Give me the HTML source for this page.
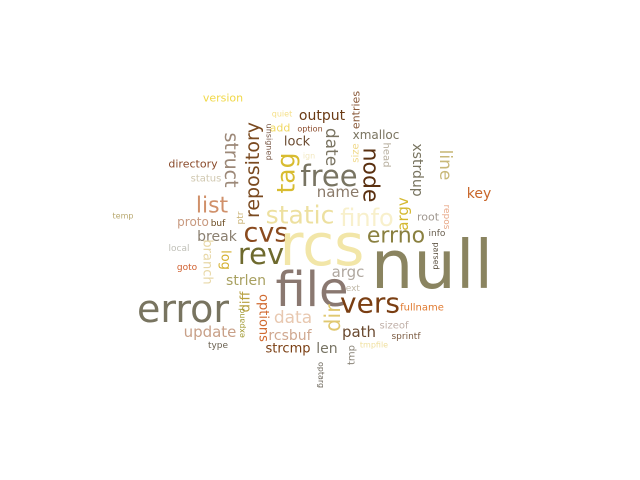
<!DOCTYPE html>
<html><head><meta charset="utf-8"><style>
html,body{margin:0;padding:0;background:#fff;}
svg{display:block;}
text{font-family:"DejaVu Sans","Liberation Sans",sans-serif;}
</style></head><body>
<svg id="cloud" width="640" height="480" viewBox="0 0 640 480"></svg>
<script>
const words = ["version","quiet","add","option","output","lock","xmalloc","directory","status","free","name","key","temp","list","proto","buf","static","finfo","root","cvs","break","errno","info","local","rev","rcs","null","goto","argc","next","strlen","file","error","vers","fullname","data","sizeof","path","update","rcsbuf","sprintf","tmpfile","type","strcmp","len","ign",
"struct","repository","unsigned","tag","size","date","entries","head","node","xstrdup","line","argv","repos","parsed","ptr","branch","log","diff","expand","options","dir","tmp","optarg"];
const sizes = [11,8,11,8,14,13,12,11,10,29,15,14,8,22,12,9,25,24,11,27,14,22,9,9,29,58,67,9,15,9,14,48,38,28,10,17,10,15,15,14,9,8,9,13,14,8,
19,19,8,25,10,17,11,10,22,14,17,15,9,8,9,13,13,13,8,13,21,10,8];
const colors = ["#f0d848","#f5e08a","#f0d860","#8a4a2a","#6a3a14","#6a4a30","#7a7460","#8a4a2a","#d0c8b0","#787462","#8a7a6a","#c8662a","#b8a870","#d0906a","#c89a80","#6a4a20","#ede0a0","#f8f0cc","#a09890","#8a4a1e","#8a7f70","#8a8040","#6a6050","#c0c0b8","#6e6a2e","#f2e6a8","#8a8460","#d06030","#b0a8a0","#c0b8a8","#a8a060","#8a7870","#787460","#7a3e12","#e07a30","#e8c8b0","#c0b0a8","#6a4a30","#c8a088","#d0a890","#7a5a40","#f0e0a0","#6a6050","#7a3e12","#787464","#f2e8c0",
"#9c8878","#7a4a20","#7a5a48","#d8bc30","#f0d888","#7a7462","#8a5a3a","#b8b0a0","#5a3010","#787460","#c8b878","#d4b830","#e8a888","#5a5040","#c8b070","#e8d8a8","#d4b030","#b8a040","#a09830","#d06a30","#e0c870","#8a8478","#6a6458"];
const cx = [223,282,280,310,322,297,376,193,206,329,338,479,123,212,193,218,300,367,428,266,217,396,437,179,261,322,432,187,348,350,246,312,183,370,422,293,394,359,210,290,406,374,218,288,327,309,
231,253,269,286,356,331,356,386,370,417,445,403,446,436,241,207,225,246,242,263,333,352,321];
const cy = [98,114,128,129,116,142,135,164,179,176,192,194,216,206,222,224,215,218,217,233,237,236,234,249,254,245,265,268,272,289,281,290,309,303,308,318,326,332,332,336,337,345,346,349,349,156,
160,170,142,173,153,147,110,155,175,170,165,214,217,256,218,262,260,302,323,318,318,355,375];
const rot = [0,0,0,0,0,0,0,0,0,0,0,0,0,0,0,0,0,0,0,0,0,0,0,0,0,0,0,0,0,0,0,0,0,0,0,0,0,0,0,0,0,0,0,0,0,0,
90,-90,90,-90,-90,90,-90,90,90,90,90,-90,90,90,-90,90,90,-90,-90,90,-90,-90,90];
const svg = document.getElementById('cloud');
for (let i = 0; i < words.length; i++) {
  const t = document.createElementNS('http://www.w3.org/2000/svg','text');
  t.setAttribute('x', cx[i]);
  t.setAttribute('y', cy[i]);
  t.setAttribute('font-size', sizes[i]);
  t.setAttribute('fill', colors[i]);
  t.setAttribute('text-anchor', 'middle');
  t.setAttribute('dominant-baseline', 'central');
  if (rot[i]) t.setAttribute('transform', 'rotate(' + rot[i] + ' ' + cx[i] + ' ' + cy[i] + ')');
  
  
  t.textContent = words[i];
  svg.appendChild(t);
}
</script>
</body></html>
